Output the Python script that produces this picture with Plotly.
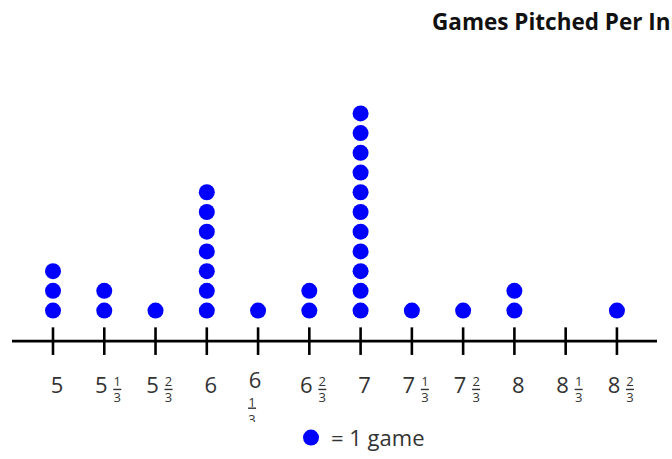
import plotly.graph_objects as go

# ---- data ----
whole = [5, 5, 5, 6, 6, 6, 7, 7, 7, 8, 8, 8]
thirds = [0, 1, 2, 0, 1, 2, 0, 1, 2, 0, 1, 2]
counts = [3, 2, 1, 7, 1, 2, 11, 1, 1, 2, 0, 1]
denominator = "3"
title_text = "Games Pitched Per Inning"
legend_text = "= 1 game"
wrapped_label = [False, False, False, False, True, False, False, False, False, False, False, False]

# ---- layout helpers (pixels -> data coords) ----
W, H = 672, 459              # figure size
CLIP = 428                   # y where plot area ends
PX = 153.8                   # px per x unit
PY = 20.0                    # px per dot


def xp(p):  # pixel x -> data x
    return 5 + (p - 53) / PX


def yp(p):  # pixel y -> data y
    return 1 + (315 - p) / PY


def ox(p):
    return p / PX


ticks = [w + t / 3 for w, t in zip(whole, thirds)]

fig = go.Figure()

# dots
dx, dy = [], []
for x, c in zip(ticks, counts):
    for k in range(1, c + 1):
        dx.append(x)
        dy.append(k)
fig.add_trace(go.Scatter(
    x=dx, y=dy, mode="markers", name=legend_text,
    marker=dict(size=16, color="#0000FF", line=dict(width=0)),
    showlegend=True, hoverinfo="skip"))

# axis line
fig.add_trace(go.Scatter(
    x=[xp(12), xp(657)], y=[yp(346), yp(346)], mode="lines",
    line=dict(color="#000000", width=2.6), showlegend=False, hoverinfo="skip"))

# tick marks
tx, ty = [], []
for x in ticks:
    tx += [x, x, None]
    ty += [yp(332), yp(360), None]
fig.add_trace(go.Scatter(
    x=tx, y=ty, mode="lines", line=dict(color="#000000", width=2.6),
    showlegend=False, hoverinfo="skip"))

# labels
LY = 2
wx, wy, wt = [], [], []
nx, ny, nt = [], [], []
ddx, ddy, ddt = [], [], []
bx, by = [], []
for x, w, t, wr in zip(ticks, whole, thirds, wrapped_label):
    if t == 0:
        wx.append(x + ox(4)); wy.append(yp(391 + LY)); wt.append(str(w))
        continue
    if wr:
        wx.append(x + ox(-3)); wy.append(yp(386 + LY)); wt.append(str(w))
        fx = x + ox(-6)
        ncy, bary, dcy = 407, 413, 425
    else:
        wx.append(x + ox(-3)); wy.append(yp(391 + LY)); wt.append(str(w))
        fx = x + ox(13)
        ncy, bary, dcy = 386.5, 394, 402.5
    nx.append(fx); ny.append(yp(ncy + LY)); nt.append(str(t))
    ddx.append(fx); ddy.append(yp(dcy + LY)); ddt.append(denominator)
    bx += [fx - ox(4), fx + ox(4), None]
    by += [yp(bary + 1), yp(bary + 1), None]

lab_font = dict(family="Open Sans", size=22, color="#333333")
frac_font = dict(family="Open Sans", size=13, color="#333333")
fig.add_trace(go.Scatter(x=wx, y=wy, text=wt, mode="text", textposition="middle center",
                         textfont=lab_font, showlegend=False, hoverinfo="skip"))
fig.add_trace(go.Scatter(x=nx, y=ny, text=nt, mode="text", textposition="middle center",
                         textfont=frac_font, showlegend=False, hoverinfo="skip"))
fig.add_trace(go.Scatter(x=ddx, y=ddy, text=ddt, mode="text", textposition="middle center",
                         textfont=frac_font, showlegend=False, hoverinfo="skip"))
fig.add_trace(go.Scatter(x=bx, y=by, mode="lines", line=dict(color="#333333", width=1.4),
                         showlegend=False, hoverinfo="skip"))

fig.add_annotation(
    text="<b>" + title_text + "</b>", xref="paper", yref="paper",
    x=430 / W, y=(CLIP - 22) / CLIP, xanchor="left", yanchor="middle",
    showarrow=False, font=dict(family="Open Sans", size=22.5, color="#111111"))

fig.update_layout(
    width=W, height=H,
    margin=dict(l=0, r=0, t=0, b=H - CLIP, pad=0),
    paper_bgcolor="white", plot_bgcolor="white",
    xaxis=dict(range=[xp(0), xp(W)], visible=False, fixedrange=True),
    yaxis=dict(range=[yp(CLIP), yp(0)], visible=False, fixedrange=True),
    showlegend=True,
    legend=dict(x=291 / W, y=(CLIP - 444) / CLIP, xanchor="left", yanchor="middle",
                bgcolor="rgba(0,0,0,0)", borderwidth=0,
                font=dict(family="Open Sans", size=22, color="#333333")),
    hovermode=False,
)

fig.write_html("out.html",
               config={"displayModeBar": False, "staticPlot": True},
               post_script="document.body.style.margin='0px';document.body.style.overflow='hidden';")
